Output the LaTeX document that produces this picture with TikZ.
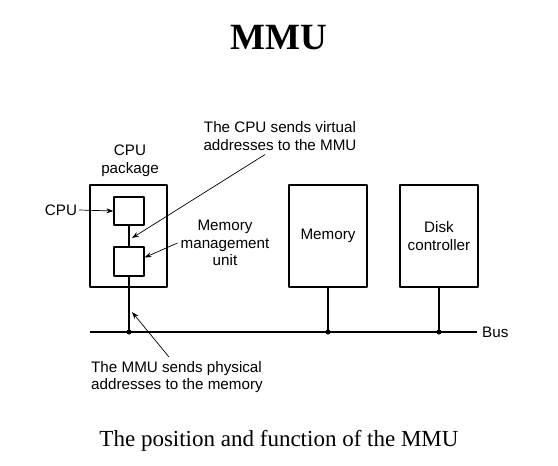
\documentclass[tikz,border=0pt]{standalone}
\usepackage{fontspec}
\setmainfont{Liberation Serif}
\newfontfamily\diagfont{Liberation Sans}
\usetikzlibrary{arrows.meta,calc}

\tikzset{
  unit/.style={draw, line width=1.2pt, minimum width=#1, inner sep=0pt},
  lbl/.style={font=\diagfont\fontsize{15.2}{17.5}\selectfont, inner sep=0pt, align=center},
  pointer/.style={line width=0.7pt, -{Stealth[length=7pt,width=5pt]}},
  wire/.style={line width=1.2pt},
  tap/.style={circle, fill, inner sep=0pt, minimum size=5pt}
}

\begin{document}
\begin{tikzpicture}[x=1pt, y=-1pt, line join=round]
  \useasboundingbox (0,0) rectangle (558,466);

  % Titre et légende
  \node[font=\bfseries\fontsize{37}{40}\selectfont] (title) at (279,38) {MMU};
  \node[font=\fontsize{23}{26}\selectfont] (caption) at (279,441) {The position and function of the MMU};

  % Boîtier du processeur et ses deux blocs
  \node[unit=77pt, minimum height=102pt] (pkg) at (128.5,236) {};
  \node[unit=30pt, minimum height=28pt] (cpu) at (129,211) {};
  \node[unit=30pt, minimum height=29pt] (mmu) at (129,261.5) {};

  % Mémoire et contrôleur de disque
  \node[unit=78pt, minimum height=102pt, lbl] (mem) at (328,236) {Memory};
  \node[unit=78pt, minimum height=102pt, lbl] (disk) at (439,236) {Disk\\controller};

  % Bus et points de raccordement
  \coordinate (busL) at (90,332);
  \coordinate (busR) at (477,332);
  \draw[wire] (busL) -- (busR);
  \node[lbl, anchor=west] (bus) at (482,332) {Bus};
  \node[tap] (t1) at (129,332) {};
  \node[tap] (t2) at (328,332) {};
  \node[tap] (t3) at (439,332) {};

  % Liaisons verticales
  \draw[wire] (cpu.south) -- (mmu.north);
  \draw[wire] (mmu.south) -- (t1.center);
  \draw[wire] (mem.south) -- (t2.center);
  \draw[wire] (disk.south) -- (t3.center);

  % Étiquettes
  \node[lbl] (pkglbl) at (130,161) {CPU\\package};
  \node[lbl] (cpulbl) at (61,210) {CPU};
  \node[lbl] (mmulbl) at (225,243) {Memory\\management\\unit};
  \node[lbl] (virt) at (280,136) {The CPU sends virtual\\addresses to the MMU};
  \node[lbl, align=left, anchor=west] (phys) at (91,377) {The MMU sends physical\\addresses to the memory};

  % Flèches
  \coordinate (vtip) at ($(cpu.south)!0.5!(mmu.north)+(3,2)$);
  \coordinate (ptip) at (132,312);
  \draw[pointer] ([xshift=2pt]cpulbl.east) -- (cpu.west);
  \draw[pointer] ([xshift=-3pt]mmulbl.west) -- ([yshift=4pt]mmu.east);
  \draw[pointer] ([xshift=-15pt,yshift=-4pt]virt.south) -- (vtip);
  \draw[pointer] ([xshift=-8pt,yshift=4pt]phys.north) -- (ptip);
\end{tikzpicture}
\end{document}
